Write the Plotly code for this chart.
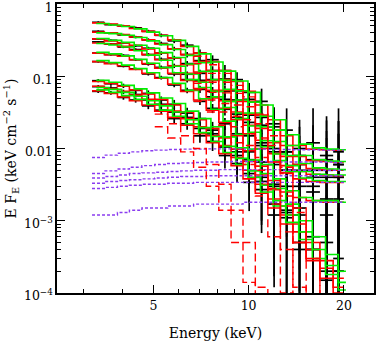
import math
import plotly.graph_objects as go

# energy bin edges (keV) for the red/black groups and the green group
edges = [3.2, 3.5, 3.85, 4.2, 4.6, 5.05, 5.55, 6.1, 6.7, 7.35, 8.05,
         8.8, 9.6, 10.5, 11.5, 12.6, 13.8, 15.2, 16.8, 18.5, 20.0]
green_edges = [3.3, 3.62, 3.97, 4.35, 4.77, 5.23, 5.75, 6.32, 6.95, 7.6, 8.3,
               9.1, 9.95, 10.9, 11.95, 13.1, 14.4, 15.9, 17.5, 19.2, 20.3]

# red model (total) for each spectrum, one value per bin
m1 = [0.55, 0.53, 0.50, 0.46, 0.42, 0.37, 0.32, 0.26, 0.21, 0.16, 0.12, 0.085, 0.062, 0.040, 0.025, 0.015, 0.011, 0.0098, 0.0096, 0.0095]
m2 = [0.41, 0.40, 0.38, 0.35, 0.32, 0.28, 0.24, 0.20, 0.16, 0.12, 0.09, 0.065, 0.045, 0.029, 0.018, 0.011, 0.0078, 0.0068, 0.0066, 0.0065]
m3 = [0.33, 0.31, 0.29, 0.27, 0.24, 0.21, 0.18, 0.145, 0.115, 0.088, 0.064, 0.045, 0.030, 0.019, 0.012, 0.0078, 0.0060, 0.0053, 0.0051, 0.005]
m4 = [0.29, 0.28, 0.26, 0.23, 0.20, 0.17, 0.14, 0.11, 0.085, 0.064, 0.046, 0.032, 0.021, 0.013, 0.0085, 0.0058, 0.0048, 0.0044, 0.0043, 0.0042]
m5 = [0.21, 0.20, 0.19, 0.17, 0.15, 0.13, 0.11, 0.088, 0.068, 0.050, 0.036, 0.025, 0.016, 0.010, 0.0065, 0.0046, 0.0038, 0.0035, 0.0034, 0.0034]
m6 = [0.16, 0.15, 0.14, 0.125, 0.11, 0.094, 0.078, 0.062, 0.047, 0.034, 0.023, 0.015, 0.0093, 0.0057, 0.0036, 0.0025, 0.0021, 0.0019, 0.0018, 0.0018]
m7 = [0.085, 0.08, 0.073, 0.065, 0.057, 0.048, 0.040, 0.032, 0.025, 0.019, 0.014, 0.0098, 0.0066, 0.0043, 0.0027, 0.0016, 0.0009, 0.0005, 0.00028, 0.00016]
m8 = [0.073, 0.068, 0.062, 0.055, 0.048, 0.040, 0.033, 0.026, 0.020, 0.015, 0.011, 0.0075, 0.005, 0.0032, 0.002, 0.0012, 0.0007, 0.0004, 0.00022, 0.00012]
m9 = [0.063, 0.058, 0.052, 0.046, 0.040, 0.033, 0.027, 0.021, 0.016, 0.012, 0.0085, 0.0058, 0.0038, 0.0024, 0.0015, 0.0009, 0.0005, 0.00028, 0.00016, 0.0001]

# green model for each spectrum
g1 = [0.54, 0.515, 0.49, 0.455, 0.41, 0.365, 0.315, 0.26, 0.205, 0.158, 0.118, 0.086, 0.06, 0.04, 0.025, 0.0155, 0.0115, 0.0102, 0.0098, 0.0096]
g2 = [0.40, 0.39, 0.37, 0.345, 0.31, 0.275, 0.235, 0.195, 0.155, 0.118, 0.088, 0.063, 0.044, 0.028, 0.018, 0.011, 0.008, 0.007, 0.0067, 0.0066]
g3 = [0.335, 0.315, 0.295, 0.27, 0.245, 0.213, 0.182, 0.148, 0.117, 0.09, 0.066, 0.047, 0.031, 0.02, 0.0125, 0.008, 0.0062, 0.0054, 0.0052, 0.0051]
g4 = [0.285, 0.272, 0.255, 0.226, 0.197, 0.167, 0.138, 0.108, 0.083, 0.062, 0.045, 0.031, 0.0205, 0.0128, 0.0084, 0.0058, 0.0048, 0.0044, 0.0043, 0.0043]
g5 = [0.215, 0.205, 0.192, 0.172, 0.152, 0.132, 0.112, 0.09, 0.07, 0.052, 0.037, 0.026, 0.0168, 0.0106, 0.0068, 0.0048, 0.0039, 0.0036, 0.0035, 0.0035]
g6 = [0.165, 0.155, 0.143, 0.128, 0.112, 0.096, 0.08, 0.064, 0.049, 0.035, 0.024, 0.0158, 0.0098, 0.006, 0.0038, 0.0026, 0.0021, 0.0019, 0.0019, 0.0018]
g7 = [0.088, 0.083, 0.075, 0.067, 0.059, 0.05, 0.042, 0.033, 0.026, 0.02, 0.0145, 0.0102, 0.0069, 0.0045, 0.0028, 0.0017, 0.001, 0.0006, 0.00034, 0.0002]
g8 = [0.07, 0.066, 0.06, 0.053, 0.046, 0.039, 0.032, 0.025, 0.0195, 0.0147, 0.0107, 0.0073, 0.0049, 0.0031, 0.0019, 0.0012, 0.0007, 0.0004, 0.00024, 0.00014]
g9 = [0.065, 0.06, 0.054, 0.048, 0.041, 0.034, 0.028, 0.022, 0.0166, 0.0125, 0.0088, 0.006, 0.004, 0.0025, 0.0016, 0.00095, 0.00055, 0.0003, 0.00018, 0.00011]

# black data points
d1 = [0.56, 0.52, 0.50, 0.47, 0.42, 0.37, 0.31, 0.27, 0.21, 0.17, 0.12, 0.09, 0.06, 0.045, 0.022, 0.018, 0.008, 0.012, 0.007, 0.009]
d2 = [0.42, 0.40, 0.375, 0.35, 0.32, 0.285, 0.24, 0.2, 0.165, 0.12, 0.092, 0.063, 0.048, 0.027, 0.02, 0.009, 0.01, 0.005, 0.008, 0.006]
d3 = [0.33, 0.315, 0.29, 0.265, 0.245, 0.21, 0.18, 0.15, 0.11, 0.09, 0.062, 0.047, 0.029, 0.021, 0.01, 0.009, 0.005, 0.007, 0.004, 0.006]
d4 = [0.30, 0.28, 0.255, 0.235, 0.2, 0.172, 0.14, 0.107, 0.088, 0.062, 0.048, 0.03, 0.023, 0.012, 0.009, 0.005, 0.006, 0.003, 0.005, 0.004]
d5 = [0.21, 0.2, 0.195, 0.17, 0.148, 0.133, 0.108, 0.09, 0.066, 0.052, 0.035, 0.027, 0.015, 0.011, 0.006, 0.005, 0.003, 0.004, 0.002, 0.004]
d6 = [0.16, 0.152, 0.138, 0.127, 0.108, 0.096, 0.076, 0.064, 0.045, 0.036, 0.022, 0.016, 0.009, 0.0065, 0.0032, 0.003, 0.0015, 0.0025, 0.0012, 0.002]
d7 = [0.087, 0.079, 0.074, 0.064, 0.058, 0.047, 0.041, 0.031, 0.026, 0.018, 0.0145, 0.009, 0.007, 0.004, 0.003, 0.0013, 0.0012, 0.0004, 0.0005, 0.0002]
d8 = [0.072, 0.069, 0.061, 0.056, 0.047, 0.041, 0.032, 0.027, 0.019, 0.016, 0.0105, 0.008, 0.0045, 0.0035, 0.0017, 0.0014, 0.0005, 0.0006, 0.0002, 0.0003]
d9 = [0.062, 0.059, 0.051, 0.047, 0.039, 0.034, 0.026, 0.022, 0.015, 0.0125, 0.008, 0.0062, 0.0034, 0.0027, 0.0012, 0.0011, 0.0004, 0.0004, 0.00015, 0.0002]

# relative error sizes per bin (bright and faint spectra)
err_up = [0.03, 0.03, 0.035, 0.04, 0.05, 0.06, 0.07, 0.09, 0.12, 0.15, 0.2, 0.27, 0.35, 0.5, 0.7, 1.0, 1.5, 2.0, 2.5, 3.0]
err_dn = [0.03, 0.03, 0.035, 0.04, 0.05, 0.06, 0.07, 0.09, 0.11, 0.14, 0.18, 0.24, 0.3, 0.42, 0.6, 0.8, 0.93, 0.98, 0.99, 0.995]
err_up_faint = [0.05, 0.06, 0.07, 0.08, 0.1, 0.12, 0.15, 0.18, 0.22, 0.3, 0.4, 0.55, 0.8, 1.1, 1.5, 2.0, 2.5, 3.0, 3.5, 4.0]
err_dn_faint = [0.05, 0.06, 0.07, 0.08, 0.1, 0.12, 0.14, 0.17, 0.2, 0.26, 0.34, 0.45, 0.6, 0.75, 0.9, 0.97, 0.99, 0.995, 0.998, 0.999]

# purple (flat) model components
p1 = [0.0075, 0.0081, 0.0086, 0.009, 0.0093, 0.0095, 0.0097, 0.0098, 0.0098, 0.0099, 0.0099, 0.0099, 0.0098, 0.0098, 0.0097, 0.0097, 0.0096, 0.0096, 0.0095, 0.0095]
p2 = [0.0045, 0.0049, 0.0052, 0.0055, 0.0058, 0.006, 0.0062, 0.0063, 0.0064, 0.0065, 0.0065, 0.0066, 0.0066, 0.0066, 0.0066, 0.0065, 0.0065, 0.0065, 0.0065, 0.0064]
p3 = [0.0039, 0.0041, 0.0043, 0.0045, 0.0046, 0.0047, 0.0048, 0.0049, 0.005, 0.005, 0.0051, 0.0051, 0.0051, 0.0051, 0.0051, 0.005, 0.005, 0.005, 0.005, 0.005]
p4 = [0.0033, 0.0035, 0.0036, 0.0037, 0.0038, 0.0039, 0.004, 0.0041, 0.0041, 0.0042, 0.0042, 0.0042, 0.0042, 0.0042, 0.0042, 0.0042, 0.0042, 0.0042, 0.0042, 0.0042]
p5 = [0.0028, 0.0029, 0.003, 0.0031, 0.0032, 0.0032, 0.0033, 0.0033, 0.0034, 0.0034, 0.0034, 0.0034, 0.0034, 0.0034, 0.0034, 0.0034, 0.0034, 0.0034, 0.0034, 0.0034]
p6 = [0.0012, 0.0012, 0.0013, 0.0014, 0.0015, 0.0015, 0.0016, 0.0016, 0.0017, 0.0017, 0.0017, 0.0017, 0.0018, 0.0018, 0.0018, 0.0018, 0.0018, 0.0018, 0.0018, 0.0018]

# red dashed cut-off components; cut_starts = first bin index of each
cut_starts = [8, 8, 8, 8, 8, 8, 5, 5]
c1 = [0.19, 0.145, 0.11, 0.075, 0.052, 0.03, 0.015, 0.0055, 0.0015, 0.0003, 0.00006, 0.00001]
c2 = [0.15, 0.11, 0.083, 0.058, 0.038, 0.022, 0.011, 0.0045, 0.0013, 0.0003, 0.00006, 0.00001]
c3 = [0.11, 0.083, 0.059, 0.04, 0.025, 0.014, 0.0065, 0.0022, 0.0005, 0.00008, 0.00001, 0.00001]
c4 = [0.08, 0.06, 0.042, 0.028, 0.016, 0.0075, 0.0028, 0.0007, 0.00012, 0.00002, 0.00001, 0.00001]
c5 = [0.065, 0.047, 0.032, 0.02, 0.011, 0.005, 0.0017, 0.0004, 0.00006, 0.00001, 0.00001, 0.00001]
c6 = [0.045, 0.032, 0.021, 0.012, 0.006, 0.0022, 0.0006, 0.0001, 0.00002, 0.00001, 0.00001, 0.00001]
c7 = [0.03, 0.022, 0.015, 0.01, 0.006, 0.0032, 0.0014, 0.0005, 0.00012, 0.00002]
c8 = [0.02, 0.014, 0.009, 0.0055, 0.003, 0.0014, 0.0005, 0.00014, 0.00003, 0.00001]

y_ticks = [1e-4, 1e-3, 0.01, 0.1, 1]
y_labels = ["10<sup>−4</sup>", "10<sup>−3</sup>", "0.01", "0.1", "1"]
x_ticks = [5, 10, 20]
x_labels = ["5", "10", "20"]

RED = "#ff0000"
GREEN = "#00ee00"
PURPLE = "#8a3cf0"
FONT = "DejaVu Serif"


def step(fig, e, vals, color, dash="solid", width=1.6):
    fig.add_trace(go.Scatter(x=e, y=list(vals) + [vals[-1]], mode="lines",
                             line=dict(color=color, width=width, dash=dash, shape="hv"),
                             hoverinfo="skip"))


def crosses(fig, vals, up, dn):
    xc = [math.sqrt(a * b) for a, b in zip(edges[:-1], edges[1:])]
    fig.add_trace(go.Scatter(
        x=xc, y=vals, mode="markers", marker=dict(size=1, color="black"),
        error_x=dict(type="data", symmetric=False, width=0, thickness=1.7, color="black",
                     array=[b - c for b, c in zip(edges[1:], xc)],
                     arrayminus=[c - a for a, c in zip(edges[:-1], xc)]),
        error_y=dict(type="data", symmetric=False, width=0, thickness=1.7, color="black",
                     array=[v * u for v, u in zip(vals, up)],
                     arrayminus=[v * d for v, d in zip(vals, dn)]),
        hoverinfo="skip"))


fig = go.Figure()

for d in [d1, d2, d3, d4, d5, d6]:
    crosses(fig, d, err_up, err_dn)
for d in [d7, d8, d9]:
    crosses(fig, d, err_up_faint, err_dn_faint)

for m in [m1, m2, m3, m4, m5, m6, m7, m8, m9]:
    step(fig, edges, m, RED)
for g in [g1, g2, g3, g4, g5, g6, g7, g8, g9]:
    step(fig, green_edges, g, GREEN)
for p in [p1, p2, p3, p4, p5, p6]:
    step(fig, edges, p, PURPLE, dash="3px,2px", width=1.4)
for s, c in zip(cut_starts, [c1, c2, c3, c4, c5, c6, c7, c8]):
    step(fig, edges[s:s + len(c) + 1], c, RED, dash="8px,4px", width=1.4)

axis_common = dict(type="log", showline=True, linecolor="black", linewidth=1.5,
                   mirror="allticks", ticks="inside", tickcolor="black", tickwidth=1,
                   showgrid=False, zeroline=False, automargin=False,
                   ticklabeloverflow="allow",
                   tickfont=dict(family=FONT, size=12.5, color="black"))

fig.update_layout(
    width=382, height=344,
    margin=dict(l=57, r=8, t=4, b=51),
    paper_bgcolor="white", plot_bgcolor="white",
    showlegend=False,
    font=dict(family=FONT, size=13, color="black"),
    xaxis=dict(axis_common, range=[math.log10(2.48), math.log10(24.9)],
               tickvals=x_ticks, ticktext=x_labels, ticklen=8,
               minor=dict(tickvals=[3, 4, 6, 7, 8, 9], ticklen=4, ticks="inside",
                          tickcolor="black", showgrid=False),
               title=dict(text="Energy (keV)", standoff=16,
                          font=dict(family=FONT, size=14))),
    yaxis=dict(axis_common, range=[-4.001, 0.002],
               tickvals=y_ticks, ticktext=y_labels, ticklen=8, ticklabelshift=3,
               minor=dict(tickvals=[k * 10.0 ** e for e in range(-4, 0) for k in range(2, 10)],
                          ticklen=4, ticks="inside", tickcolor="black", showgrid=False),
               title=dict(text="E F<sub>E</sub> (keV cm<sup>−2</sup> s<sup>−1</sup>)", standoff=4,
                          font=dict(family=FONT, size=14))),
)

# drop the browser's default page margin so the chart sits at the window's corner
fig.write_html("out.html", config={"displayModeBar": False},
               post_script="document.body.style.margin='0';")
